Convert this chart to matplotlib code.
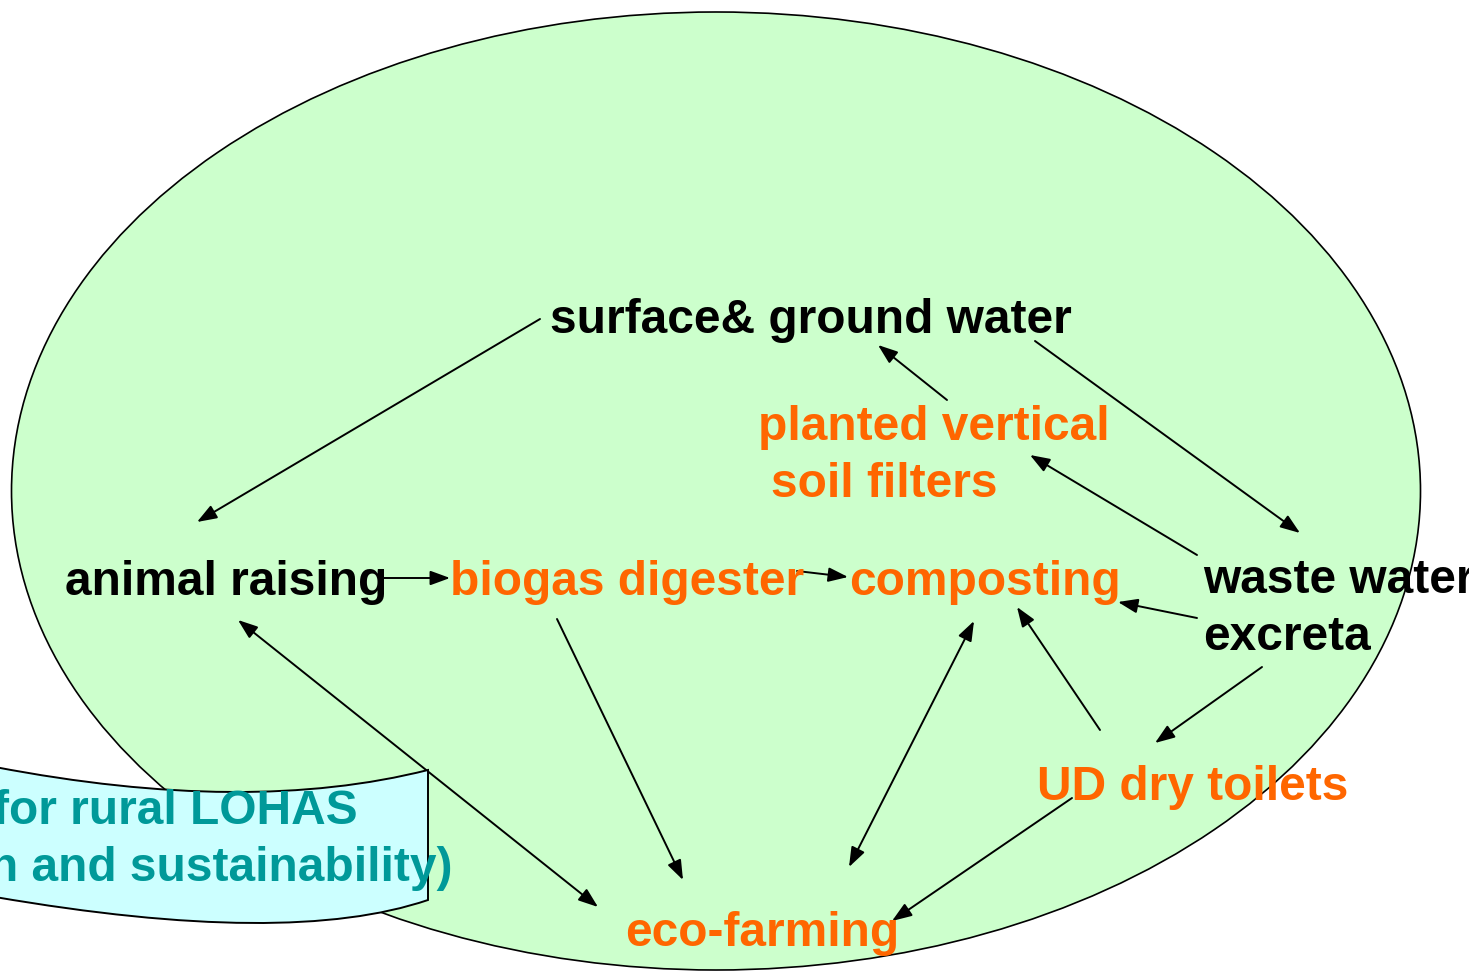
import matplotlib
matplotlib.use("Agg")
import matplotlib.pyplot as plt
from matplotlib.patches import Ellipse, FancyArrowPatch, PathPatch
from matplotlib.path import Path

W, H = 1469, 974
FONT = "Liberation Sans"
BLACK, ORANGE, TEAL = "#000000", "#FF6600", "#009999"

# Node labels: text, left x, baseline y, colour
labels = ["surface& ground water", "planted vertical", "soil filters",
          "animal raising", "biogas digester", "composting",
          "waste water", "excreta", "UD dry toilets", "eco-farming"]
label_x = [550, 758, 771, 65, 450, 849, 1203, 1203, 1037, 625]
label_y = [333, 440, 497, 595, 595, 595, 593, 650, 800, 946]
label_color = [BLACK, ORANGE, ORANGE, BLACK, ORANGE, ORANGE,
               BLACK, BLACK, ORANGE, ORANGE]

# Arrows: tail (x0,y0) -> head (x1,y1), double-headed flag
arrow_x0 = [540, 947, 1035, 1197, 383, 797, 1197, 1262, 1100, 974, 238, 557, 1072]
arrow_y0 = [319, 400, 341, 555, 578, 571, 618, 667, 730, 621, 620, 619, 798]
arrow_x1 = [197, 878, 1300, 1030, 450, 848, 1118, 1155, 1017, 849, 598, 683, 892]
arrow_y1 = [522, 345, 533, 455, 578, 577, 602, 743, 607, 867, 907, 880, 921]
arrow_double = [False, False, False, False, False, False, False, False, False,
                True, True, False, False]

# Banner text (partly cut off at the left edge in the original)
banner_lines = ["for rural LOHAS", "h and sustainability)"]
banner_right = [358, 453]
banner_base = [824, 881]

fig = plt.figure(figsize=(W / 100, H / 100), dpi=100)
ax = fig.add_axes([0, 0, 1, 1])
ax.set_xlim(0, W)
ax.set_ylim(H, 0)
ax.axis("off")

# Big ellipse
ax.add_patch(Ellipse((716, 491), 1409, 958, facecolor="#CCFFCC",
                     edgecolor="black", lw=1.2, zorder=1))

# Arrows
for x0, y0, x1, y1, dbl in zip(arrow_x0, arrow_y0, arrow_x1, arrow_y1, arrow_double):
    style = "<|-|>" if dbl else "-|>"
    ax.add_patch(FancyArrowPatch((x0, y0), (x1, y1),
                                 arrowstyle=f"{style},head_length=0.6,head_width=0.22",
                                 mutation_scale=20, color="black", lw=1.4,
                                 shrinkA=0, shrinkB=0, zorder=3))

# Banner (ribbon shape)
verts = [(-5, 767), (248, 815.5), (428, 770),
         (428, 900), (288.5, 947.5), (-5, 897), (-5, 767)]
codes = [Path.MOVETO, Path.CURVE3, Path.CURVE3,
         Path.LINETO, Path.CURVE3, Path.CURVE3, Path.CLOSEPOLY]
ax.add_patch(PathPatch(Path(verts, codes), facecolor="#CCFFFF",
                       edgecolor="black", lw=1.4, zorder=4))

for t, xr, yb in zip(banner_lines, banner_right, banner_base):
    ax.text(xr, yb, t, ha="right", va="baseline", fontsize=34.5,
            fontweight="bold", family=FONT, color=TEAL, zorder=5)

for t, x, y, c in zip(labels, label_x, label_y, label_color):
    ax.text(x, y, t, ha="left", va="baseline", fontsize=34.5,
            fontweight="bold", family=FONT, color=c, zorder=5)

fig.savefig("out.png", dpi=100)
